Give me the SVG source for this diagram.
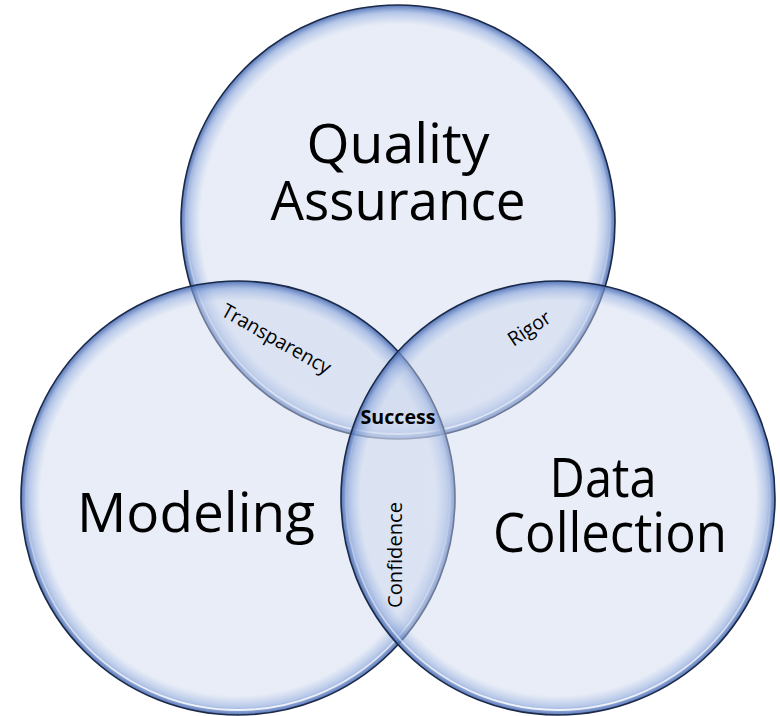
<svg xmlns="http://www.w3.org/2000/svg" width="780" height="716" viewBox="0 0 780 716">
<defs>
<radialGradient id="fillG" cx="0.5" cy="0.5" r="0.5">
<stop offset="0" stop-color="#cdd8ee" stop-opacity="0.45"/>
<stop offset="0.91" stop-color="#cdd8ee" stop-opacity="0.47"/>
<stop offset="0.965" stop-color="#88a4da" stop-opacity="0.62"/>
<stop offset="1" stop-color="#4266b0" stop-opacity="0.9"/>
</radialGradient>
<linearGradient id="hiG" x1="0" y1="0" x2="0" y2="1">
<stop offset="0" stop-color="#ffffff" stop-opacity="0"/>
<stop offset="0.5" stop-color="#ffffff" stop-opacity="0.15"/>
<stop offset="1" stop-color="#ffffff" stop-opacity="0.85"/>
</linearGradient>
</defs>
<style>
.c{fill:url(#fillG);stroke:#1c2a48;stroke-width:1.6}
.h{fill:none;stroke:url(#hiG);stroke-width:1.8}
.big{font-family:"Open Sans","Liberation Sans",sans-serif;font-size:55px;fill:#000;text-anchor:middle}
.sm{font-family:"Open Sans","Liberation Sans",sans-serif;font-size:20px;fill:#000;text-anchor:middle}
.b{font-weight:bold;font-size:19px}
</style>
<rect width="780" height="716" fill="#ffffff"/>
<g id="quality-assurance">
<circle class="c" cx="398" cy="222" r="217"/>
<circle class="h" cx="398" cy="222" r="212"/>
</g>
<g id="modeling">
<circle class="c" cx="238" cy="498" r="217"/>
<circle class="h" cx="238" cy="498" r="212"/>
</g>
<g id="data-collection">
<circle class="c" cx="558" cy="498" r="217"/>
<circle class="h" cx="558" cy="498" r="212"/>
</g>
<g id="connectors"/>
<g id="labels">
<text class="big" x="398" y="163" textLength="183" lengthAdjust="spacingAndGlyphs">Quality</text>
<text class="big" x="398" y="220" textLength="255" lengthAdjust="spacingAndGlyphs">Assurance</text>
<text class="big" x="196" y="532" textLength="238" lengthAdjust="spacingAndGlyphs">Modeling</text>
<text class="big" x="603" y="497" textLength="107" lengthAdjust="spacingAndGlyphs">Data</text>
<text class="big" x="610" y="552" textLength="234" lengthAdjust="spacingAndGlyphs">Collection</text>
<text class="sm b" x="398" y="424" textLength="75" lengthAdjust="spacingAndGlyphs">Success</text>
<text class="sm" transform="translate(273,345) rotate(29.5)" textLength="122" lengthAdjust="spacingAndGlyphs">Transparency</text>
<text class="sm" transform="translate(533,334) rotate(-33.5)" textLength="47" lengthAdjust="spacingAndGlyphs">Rigor</text>
<text class="sm" transform="translate(402,555) rotate(-90)" textLength="106" lengthAdjust="spacingAndGlyphs">Confidence</text>
</g>
</svg>
